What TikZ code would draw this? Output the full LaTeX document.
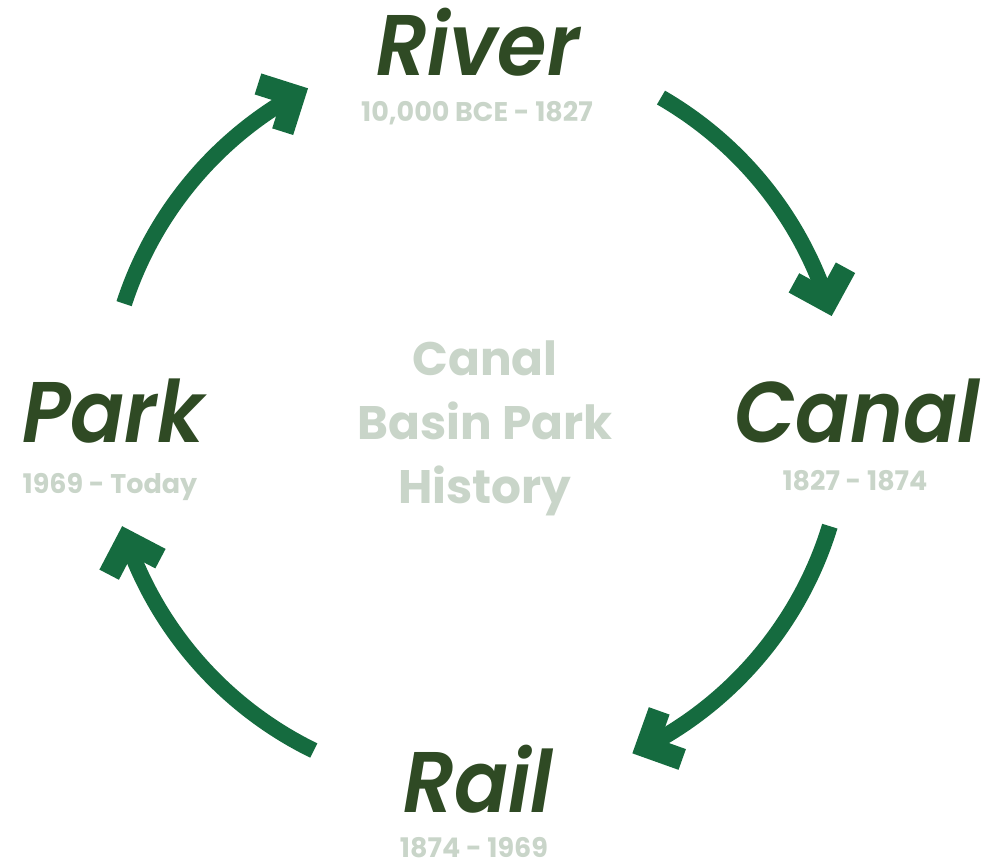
\documentclass[tikz,border=0pt]{standalone}
\usepackage{fontspec}
\setmainfont{Poppins}
\newfontfamily\erafont{Poppins SemiBold Italic}[FakeStretch=0.93]
\usetikzlibrary{arrows.meta,bending}

\definecolor{titlegreen}{HTML}{2F4A24}
\definecolor{arrowgreen}{HTML}{156B3F}
\definecolor{palegreen}{HTML}{C9D5C9}

\tikzset{
  era/.style={anchor=base, inner sep=0pt, text=titlegreen,
    font=\fontsize{86}{86}\erafont},
  years/.style={anchor=base, inner sep=0pt, text=palegreen,
    font=\fontsize{27}{27}\selectfont\bfseries},
  cyclearrow/.style={draw=arrowgreen, line width=16pt,
    -{Straight Barb[sharp, angle=90:38pt, line width=22pt]}}
}

\begin{document}
\begin{tikzpicture}[x=1pt,y=1pt]
  \useasboundingbox (-476,418) rectangle (506,-449);
  % eras round the circle
  \node[era] (river) at (2,342) {River};
  \node[years] (riveryrs) at (1,296) {10,000 BCE - 1827};
  \node[era] (canal) at (381,-25) {Canal};
  \node[years] (canalyrs) at (379,-72) {1827 - 1874};
  \node[era] (rail) at (2,-394) {Rail};
  \node[years] (railyrs) at (-2,-439) {1874 - 1969};
  \node[era] (park) at (-363,-25) {Park};
  \node[years] (parkyrs) at (-366,-75) {1969 - Today};
  % middle
  \node[anchor=base, inner sep=0pt, text=palegreen, align=center,
    font=\fontsize{47}{64}\selectfont\bfseries] (title) at (9,-85)
    {Canal\\Basin Park\\History};
  % arrows
  \coordinate (s1) at (60:370pt);
  \coordinate (s2) at (-17:370pt);
  \coordinate (s3) at (-116:370pt);
  \coordinate (s4) at (162:370pt);
  \draw[cyclearrow] (s1) arc[start angle=60, end angle=16, radius=370pt];
  \draw[cyclearrow] (s2) arc[start angle=-17, end angle=-65, radius=370pt];
  \draw[cyclearrow] (s3) arc[start angle=-116, end angle=-163, radius=370pt];
  \draw[cyclearrow] (s4) arc[start angle=162, end angle=117, radius=370pt];
\end{tikzpicture}
\end{document}
